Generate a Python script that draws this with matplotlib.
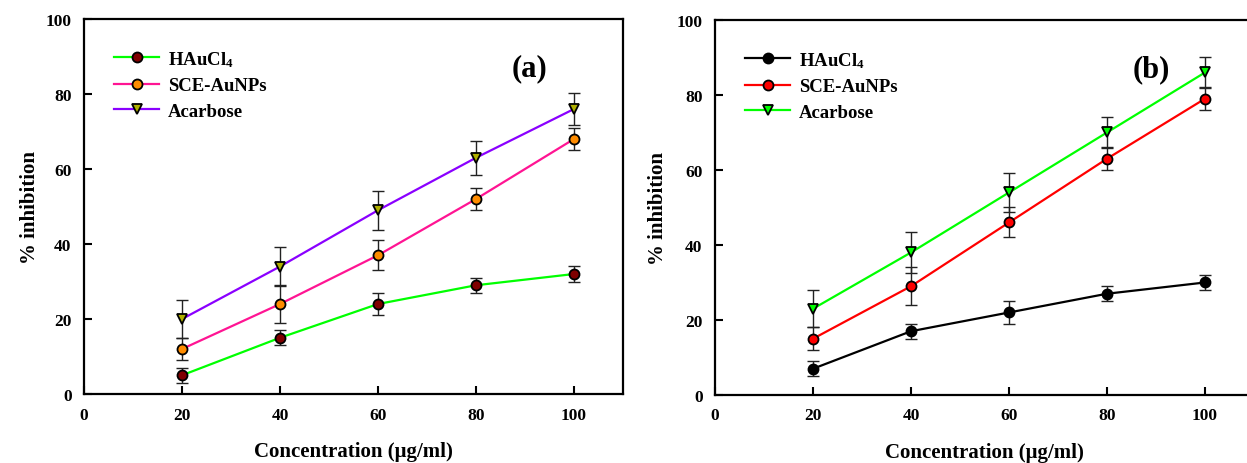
import matplotlib
matplotlib.use("Agg")
import matplotlib.pyplot as plt

# ---- data ----
conc = [20, 40, 60, 80, 100]

a_hau = [5, 15, 24, 29, 32]
a_hau_err = [2, 2, 3, 2, 2.2]
a_sce = [12, 24, 37, 52, 68]
a_sce_err = [3, 5, 4, 3, 3]
a_aca = [20, 34, 49, 63, 76]
a_aca_err = [5, 5.3, 5.2, 4.5, 4.2]

b_hau = [7, 17, 22, 27, 30]
b_hau_err = [2, 2, 3, 2, 2.1]
b_sce = [15, 29, 46, 63, 79]
b_sce_err = [3, 5, 4, 3, 3]
b_aca = [23, 38, 54, 70, 86]
b_aca_err = [5, 5.5, 5.2, 4.2, 4.2]

labels = ["HAuCl$_4$", "SCE-AuNPs", "Acarbose"]
xticks = [0, 20, 40, 60, 80, 100]
yticks = [0, 20, 40, 60, 80, 100]

plt.rcParams['font.family'] = ['Liberation Serif', 'DejaVu Serif']
plt.rcParams['font.weight'] = 'bold'
plt.rcParams['mathtext.fontset'] = 'custom'
plt.rcParams['mathtext.rm'] = 'Liberation Serif:bold'
plt.rcParams['mathtext.it'] = 'Liberation Serif:bold'
plt.rcParams['mathtext.default'] = 'rm'

fig = plt.figure(figsize=(12.47, 4.64), dpi=100)
ax_a = fig.add_axes([0.0674, 0.1487, 0.4322, 0.8082])
ax_b = fig.add_axes([0.5734, 0.1466, 0.4322, 0.8082])

series_a = [
    (a_hau, a_hau_err, 'o', '#00ff00', '#800000'),
    (a_sce, a_sce_err, 'o', '#ff1493', '#ff8c00'),
    (a_aca, a_aca_err, 'v', '#8a00ff', '#b0b000'),
]
series_b = [
    (b_hau, b_hau_err, 'o', '#000000', '#000000'),
    (b_sce, b_sce_err, 'o', '#ff0000', '#ff0000'),
    (b_aca, b_aca_err, 'v', '#00ff00', '#00ff00'),
]

def draw(ax, series, tag, tagx, ypad):
    for (vals, errs, mk, lc, fc), lab in zip(series, labels):
        ax.errorbar(conc, vals, yerr=errs, fmt='none', ecolor='#222222',
                    elinewidth=1.0, capsize=4.5, capthick=1.0, zorder=2)
        ax.plot(conc, vals, color=lc, lw=1.6, marker=mk, markersize=7.2,
                markerfacecolor=fc, markeredgecolor='black', markeredgewidth=1.3,
                label=lab, zorder=3)
    ax.set_xlim(0, 110)
    ax.set_ylim(0, 100)
    ax.set_xticks(xticks)
    ax.set_yticks(yticks)
    ax.tick_params(direction='in', length=6, width=1.5, labelsize=12.5, pad=9)
    for lbl in ax.get_xticklabels() + ax.get_yticklabels():
        lbl.set_fontweight('bold')
    for s in ax.spines.values():
        s.set_linewidth(1.6)
    ax.set_xlabel("Concentration (\u03bcg/ml)", fontsize=15, fontweight='bold', labelpad=13)
    ax.set_ylabel("% inhibition", fontsize=15, fontweight='bold', labelpad=ypad)
    leg = ax.legend(loc='upper left', bbox_to_anchor=(0.025, 0.965), frameon=False,
                    numpoints=1, fontsize=13.5, handlelength=2.4, handletextpad=0.45,
                    labelspacing=0.45)
    for t in leg.get_texts():
        t.set_fontweight('bold')
    ax.text(tagx, 87, tag, fontsize=22, fontweight='bold', ha='center', va='center')

draw(ax_a, series_a, "(a)", 91, 4)
draw(ax_b, series_b, "(b)", 89, 6)

fig.savefig("out.png", dpi=100)
